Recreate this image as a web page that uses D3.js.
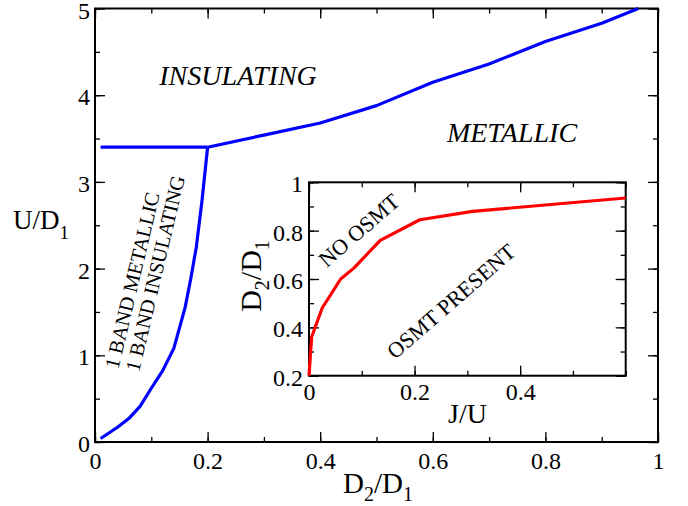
<!DOCTYPE html>
<html lang="en">
  <head>
    <meta charset="UTF-8" />
    <script src="https://d3js.org/d3.v7.min.js"></script>
    <title>phase diagram</title>
    <style>
      body { margin: 0; background: #fff; }
      text { font-family: "Liberation Serif", "Times New Roman", serif; fill: #000; }
    </style>
  </head>
  <body>
    <script>
      // main panel: U/D1 vs D2/D1
      const flatX = [0.01, 0.2];
      const flatY = [3.4, 3.4];
      const lowerX = [0.01, 0.04, 0.06, 0.08, 0.1, 0.12, 0.14, 0.16, 0.17, 0.18, 0.19, 0.2];
      const lowerY = [0.04, 0.17, 0.27, 0.41, 0.62, 0.82, 1.08, 1.55, 1.88, 2.25, 2.78, 3.4];
      const upperX = [0.2, 0.3, 0.4, 0.5, 0.6, 0.7, 0.8, 0.9, 0.965];
      const upperY = [3.4, 3.54, 3.68, 3.88, 4.15, 4.36, 4.62, 4.83, 5.0];
      const mainXTicks = [0, 0.2, 0.4, 0.6, 0.8, 1];
      const mainYTicks = [0, 1, 2, 3, 4, 5];

      // inset: D2/D1 vs J/U
      const osmtX = [0, 0.005, 0.025, 0.06, 0.085, 0.135, 0.21, 0.31, 0.6];
      const osmtY = [0.2, 0.36, 0.48, 0.6, 0.645, 0.76, 0.845, 0.88, 0.935];
      const insetXTicks = [0, 0.2, 0.4];
      const insetYTicks = [0.2, 0.4, 0.6, 0.8, 1];

      const svg = d3.select("body").append("svg")
        .attr("width", 688).attr("height", 506);

      const x = d3.scaleLinear().domain([0, 1]).range([95, 658]);
      const y = d3.scaleLinear().domain([0, 5]).range([442, 8.5]);

      const xi = d3.scaleLinear().domain([0, 0.6]).range([309, 625.7]);
      const yi = d3.scaleLinear().domain([0.2, 1]).range([375.7, 182.3]);

      function frame(g, sx, sy, xMajor, xMinor, yMajor, yMinor, padX, padY) {
        const [x0, x1] = sx.range();
        const [y0, y1] = sy.range();
        g.append("rect")
          .attr("x", x0).attr("y", y1)
          .attr("width", x1 - x0).attr("height", y0 - y1)
          .attr("fill", "#fff");

        [[d3.axisBottom, y0, true], [d3.axisTop, y1, false]].forEach(([mk, pos, lab]) => {
          const a = g.append("g").attr("transform", `translate(0,${pos})`);
          a.call(mk(sx).tickValues(xMinor).tickSize(-5).tickFormat(""));
          a.select(".domain").remove();
          const b = g.append("g").attr("transform", `translate(0,${pos})`);
          b.call(mk(sx).tickValues(xMajor).tickSize(-10).tickPadding(padX)
            .tickFormat(lab ? d3.format("") : ""));
          b.select(".domain").remove();
        });
        [[d3.axisLeft, x0, true], [d3.axisRight, x1, false]].forEach(([mk, pos, lab]) => {
          const a = g.append("g").attr("transform", `translate(${pos},0)`);
          a.call(mk(sy).tickValues(yMinor).tickSize(-5).tickFormat(""));
          a.select(".domain").remove();
          const b = g.append("g").attr("transform", `translate(${pos},0)`);
          b.call(mk(sy).tickValues(yMajor).tickSize(-10).tickPadding(padY)
            .tickFormat(lab ? d3.format("") : ""));
          b.select(".domain").remove();
          b.selectAll(".tick text").attr("dy", "0.4em");
        });
        g.selectAll(".tick line").attr("stroke", "#000").attr("stroke-width", 1.3);
        g.selectAll(".tick text").attr("font-size", 24)
          .attr("font-family", "Liberation Serif").attr("fill", "#000");
        g.append("rect")
          .attr("x", x0).attr("y", y1)
          .attr("width", x1 - x0).attr("height", y0 - y1)
          .attr("fill", "none").attr("stroke", "#000").attr("stroke-width", 2);
      }

      const main = svg.append("g");
      frame(main, x, y, mainXTicks, d3.range(0, 1.01, 0.1), mainYTicks, d3.range(0, 5.01, 0.5), 10, 5);

      const line = d3.line().x((d) => x(d[0])).y((d) => y(d[1]));
      [[flatX, flatY], [lowerX, lowerY], [upperX, upperY]].forEach(([xs, ys]) => {
        main.append("path")
          .datum(d3.zip(xs, ys))
          .attr("d", line)
          .attr("fill", "none").attr("stroke", "#0000ff")
          .attr("stroke-width", 3.2).attr("stroke-linejoin", "round");
      });

      main.append("text").attr("x", 238).attr("y", 85).attr("text-anchor", "middle")
        .attr("font-size", 28).attr("font-style", "italic").text("INSULATING");
      main.append("text").attr("x", 512).attr("y", 142).attr("text-anchor", "middle")
        .attr("font-size", 28).attr("font-style", "italic").text("METALLIC");
      main.append("text").attr("text-anchor", "middle").attr("font-size", 20.5)
        .attr("transform", "translate(139,282) rotate(-76.7)").text("1 BAND METALLIC");
      main.append("text").attr("text-anchor", "middle").attr("font-size", 20.5)
        .attr("transform", "translate(162,275) rotate(-76.7)").text("1 BAND INSULATING");

      const yl = main.append("text").attr("x", 13).attr("y", 229).attr("font-size", 27);
      yl.append("tspan").text("U/D");
      yl.append("tspan").attr("font-size", 19).attr("dy", 10).text("1");

      const xl = main.append("text").attr("x", 343).attr("y", 493).attr("font-size", 29);
      xl.append("tspan").text("D");
      xl.append("tspan").attr("font-size", 20).attr("dy", 8).text("2");
      xl.append("tspan").attr("dy", -8).text("/D");
      xl.append("tspan").attr("font-size", 20).attr("dy", 8).text("1");

      const inset = svg.append("g");
      frame(inset, xi, yi, insetXTicks, d3.range(0, 0.61, 0.1), insetYTicks, d3.range(0.2, 1.01, 0.1), 7, 6);

      const lineI = d3.line().x((d) => xi(d[0])).y((d) => yi(d[1]));
      inset.append("path")
        .datum(d3.zip(osmtX, osmtY))
        .attr("d", lineI)
        .attr("fill", "none").attr("stroke", "#ff0000")
        .attr("stroke-width", 3.2).attr("stroke-linejoin", "round");

      inset.append("text").attr("text-anchor", "middle").attr("font-size", 22)
        .attr("transform", "translate(364,236) rotate(-41)").text("NO OSMT");
      inset.append("text").attr("text-anchor", "middle").attr("font-size", 22)
        .attr("transform", "translate(456,307) rotate(-41)").text("OSMT PRESENT");

      inset.append("text").attr("x", 448).attr("y", 423).attr("font-size", 28).text("J/U");

      const il = inset.append("text").attr("text-anchor", "middle").attr("font-size", 30)
        .attr("transform", "translate(261,276) rotate(-90)");
      il.append("tspan").text("D");
      il.append("tspan").attr("font-size", 20).attr("dy", 8).text("2");
      il.append("tspan").attr("dy", -8).text("/D");
      il.append("tspan").attr("font-size", 20).attr("dy", 8).text("1");
    </script>
  </body>
</html>
